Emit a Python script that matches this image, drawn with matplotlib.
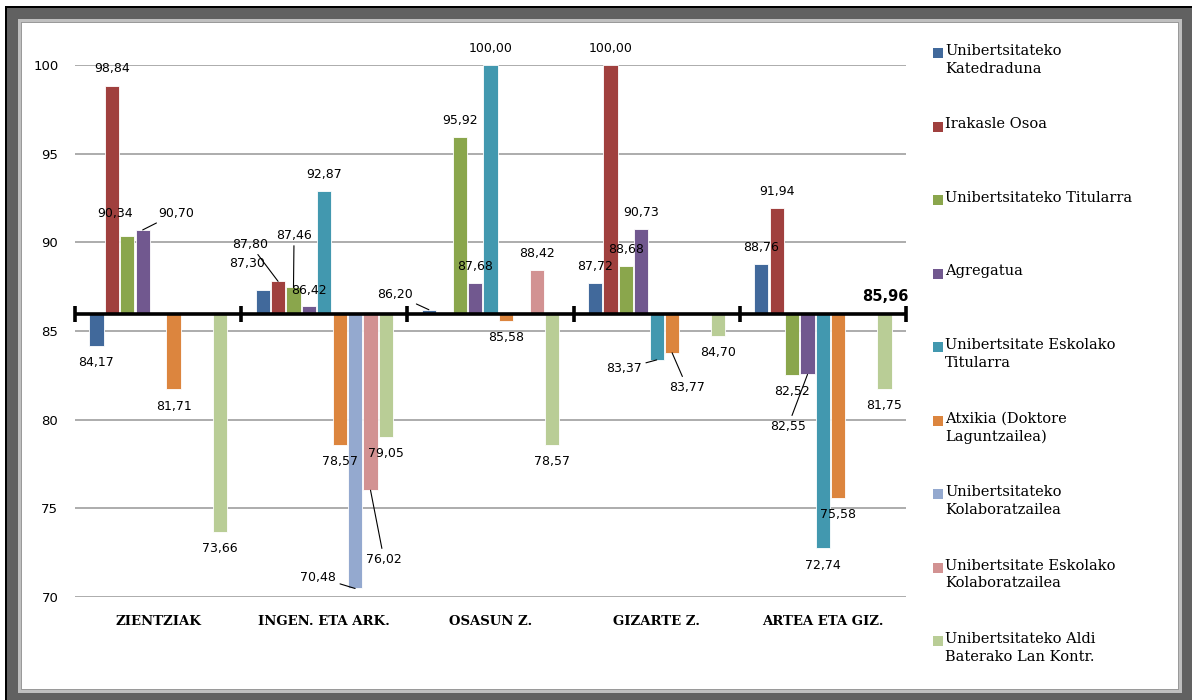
import numpy as np
import matplotlib.pyplot as plt
from matplotlib.patches import Rectangle

nan = np.nan

categories = ['ZIENTZIAK', 'INGEN. ETA ARK.', 'OSASUN Z.', 'GIZARTE Z.', 'ARTEA ETA GIZ.']

series_names = ['Unibertsitateko\nKatedraduna',
                'Irakasle Osoa',
                'Unibertsitateko Titularra',
                'Agregatua',
                'Unibertsitate Eskolako\nTitularra',
                'Atxikia (Doktore\nLaguntzailea)',
                'Unibertsitateko\nKolaboratzailea',
                'Unibertsitate Eskolako\nKolaboratzailea',
                'Unibertsitateko Aldi\nBaterako Lan Kontr.']

katedraduna = [84.17, 87.30, 86.20, 87.72, 88.76]
irakasle_osoa = [98.84, 87.80, nan, 100.00, 91.94]
titularra = [90.34, 87.46, 95.92, 88.68, 82.52]
agregatua = [90.70, 86.42, 87.68, 90.73, 82.55]
ue_titularra = [nan, 92.87, 100.00, 83.37, 72.74]
atxikia = [81.71, 78.57, 85.58, 83.77, 75.58]
kolaboratzailea = [nan, 70.48, nan, nan, nan]
ue_kolaboratzailea = [nan, 76.02, 88.42, nan, nan]
aldi_baterako = [73.66, 79.05, 78.57, 84.70, 81.75]

batez_bestekoa = 85.96

series = [katedraduna, irakasle_osoa, titularra, agregatua, ue_titularra,
          atxikia, kolaboratzailea, ue_kolaboratzailea, aldi_baterako]

colors = ['#41699B', '#A0403E', '#8AA64C', '#71588F', '#4298AF',
          '#DC853E', '#94A9CF', '#D29292', '#B9CD96']

# labels moved by hand in the original (x, y, leader line)
label_pos = {
    (2, 0): (-0.259, 91.65, False),
    (3, 0): (0.108, 91.65, True),
    (0, 1): (0.535, 88.78, False),
    (1, 1): (0.553, 89.90, True),
    (2, 1): (0.818, 90.41, True),
    (3, 1): (0.908, 87.31, False),
    (6, 1): (0.962, 71.12, True),
    (7, 1): (1.359, 72.14, True),
    (0, 2): (1.425, 87.08, True),
    (4, 3): (2.803, 82.87, True),
    (5, 3): (3.182, 81.84, True),
    (3, 4): (3.790, 79.64, True),
}

W, H = 1192, 700
fig = plt.figure(figsize=(W / 100, H / 100), dpi=100)
fig.patch.set_facecolor('white')

# frame around the chart
def frame(x0, y0, x1, y1, c):
    fig.add_artist(Rectangle((x0 / W, 1 - y1 / H), (x1 - x0) / W, (y1 - y0) / H,
                             transform=fig.transFigure, facecolor=c, edgecolor='none', zorder=0))

frame(5, 6, 1192, 700, 'black')
frame(7, 8, 1192, 700, '#616161')
frame(18, 19, 1182, 693, '#BFBFBF')
frame(21, 22, 1179, 690, '#9A9A9A')
frame(22, 23, 1178, 689, 'white')

ax = fig.add_axes([75 / W, 1 - 597 / H, 831 / W, 532 / H])
ax.set_facecolor('white')

x = np.arange(len(categories))
step = 0.0927
width = 0.086
lab_size = 9

for j, vals in enumerate(series):
    vals = np.array(vals)
    pos = x + (j - 4) * step
    ax.bar(pos, vals - batez_bestekoa, width, bottom=batez_bestekoa, color=colors[j],
           edgecolor='white', linewidth=0.6, zorder=3)
    for i, v in enumerate(vals):
        if np.isnan(v):
            continue
        txt = f'{v:.2f}'.replace('.', ',')
        if (j, i) in label_pos:
            lx, ly, leader = label_pos[(j, i)]
            ax.annotate(txt, xy=(pos[i], v), xytext=(lx, ly), ha='center', va='center',
                        fontsize=lab_size, family='DejaVu Sans', zorder=6,
                        arrowprops=dict(arrowstyle='-', color='black', lw=0.8,
                                        shrinkA=1, shrinkB=0) if leader else None)
        else:
            off = 12 if v >= batez_bestekoa else -12
            ax.annotate(txt, xy=(pos[i], v), xytext=(0, off), textcoords='offset points',
                        ha='center', va='center', fontsize=lab_size, family='DejaVu Sans', zorder=6)

# average line with marks between categories
ax.axhline(batez_bestekoa, color='black', lw=2.6, zorder=4)
ax.plot(np.arange(-0.5, 5), [batez_bestekoa] * 6, ls='none', marker='|', ms=12, mew=2.6,
        color='black', clip_on=False, zorder=5)
ax.text(4.374, 86.97, '85,96', ha='center', va='center', fontsize=10.5, fontweight='bold',
        family='DejaVu Sans')

ax.set_xlim(-0.5, 4.5)
ax.set_ylim(70, 100)
ax.set_yticks([70, 75, 80, 85, 90, 95, 100])
ax.set_xticks(x)
ax.set_xticklabels(categories, fontsize=9.5, fontweight='bold', family='DejaVu Serif')
ax.tick_params(axis='x', length=0, pad=13)
ax.tick_params(axis='y', length=0, pad=12, labelsize=9.5)
ax.yaxis.grid(True, color='#A6A6A6', lw=1.3)
ax.set_axisbelow(True)
for s in ax.spines.values():
    s.set_visible(False)

# legend drawn by hand, one entry every 73.5 px
for j, name in enumerate(series_names):
    yc = 53 + j * 73.5
    fig.add_artist(Rectangle((933 / W, 1 - (yc + 5) / H), 10 / W, 10 / H,
                             transform=fig.transFigure, facecolor=colors[j], edgecolor='none'))
    fig.text(945 / W, 1 - (yc - 9) / H, name, ha='left', va='top', fontsize=10.5,
             family='DejaVu Serif', linespacing=1.35)

fig.savefig('out.png', dpi=100)
